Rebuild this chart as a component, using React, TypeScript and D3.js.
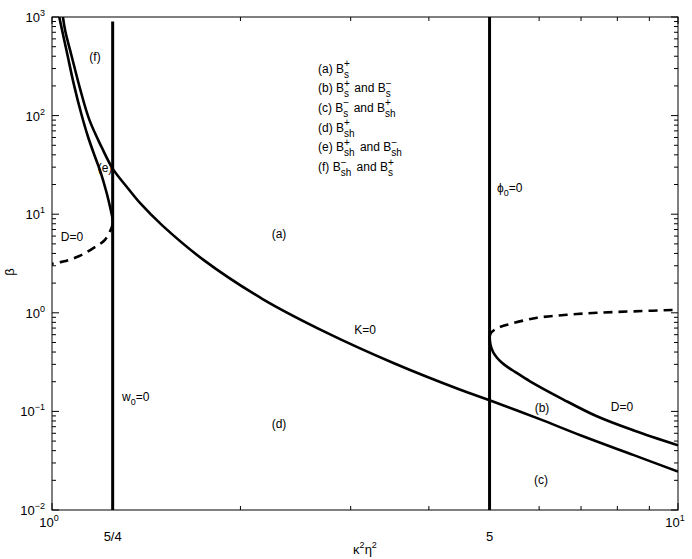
import * as d3 from "d3";

// plot box in page pixels
const W = 692;
const H = 559;
const LEFT = 52;
const RIGHT = 678;
const TOP = 17;
const BOTTOM = 510;

const FONT = "'Liberation Sans', Arial, Helvetica, sans-serif";

// curve K=0: [kappa^2 eta^2, beta]
const K0_X = [1.041, 1.05, 1.075, 1.108, 1.147, 1.2, 1.25, 1.316, 1.382, 1.5, 1.75, 2.17, 2.745, 3.51, 4.49, 5, 6, 7, 8.5, 10];
const K0_B = [1000, 720, 400, 190, 91, 48, 29, 19, 13, 7.7, 3.4, 1.38, 0.63, 0.31, 0.166, 0.13, 0.084, 0.057, 0.036, 0.0245];

// D=0 near 5/4: solid upper branch, then dashed lower branch
const D0L_SOLID_X = [1.027, 1.0567, 1.0842, 1.1126, 1.1416, 1.1714, 1.1953, 1.2228, 1.241, 1.2493, 1.25];
const D0L_SOLID_B = [1000, 433, 205, 106.8, 61, 38.2, 26.9, 16.4, 11.08, 8.98, 8.0];
const D0L_DASH_X = [1.25, 1.245, 1.215, 1.164, 1.101, 1.042, 1.0];
const D0L_DASH_B = [8.0, 7.3, 5.5, 4.53, 3.72, 3.31, 3.14];

// D=0 near 5: solid lower branch, dashed upper branch
const D0R_SOLID_X = [5.0, 5.017, 5.064, 5.139, 5.234, 5.351, 5.49, 5.802, 6.55, 7.42, 8.5, 10];
const D0R_SOLID_B = [0.571, 0.474, 0.402, 0.35, 0.311, 0.28, 0.252, 0.202, 0.1327, 0.0892, 0.064, 0.0453];
const D0R_DASH_X = [5.0, 5.027, 5.121, 5.333, 5.955, 6.647, 7.42, 8.5, 10];
const D0R_DASH_B = [0.571, 0.627, 0.688, 0.756, 0.89, 0.954, 1.0, 1.035, 1.072];

// vertical lines w0=0 and phi0=0
const W0_X = 1.25;
const W0_TOP = 900;
const PHI0_X = 5;
const PHI0_TOP = 1000;

// tick labels
const Y_DECADES = [-2, -1, 0, 1, 2, 3];
const X_DECADES = [0, 1];
const X_EXTRA = [
  { v: 1.25, label: "5/4" },
  { v: 5, label: "5" },
];

// legend: tag, then pairs of [superscript, subscript]
const LEGEND_TAGS = ["(a)", "(b)", "(c)", "(d)", "(e)", "(f)"];
const LEGEND_TERMS: string[][][] = [
  [["+", "s"]],
  [["+", "s"], ["\u2212", "s"]],
  [["\u2212", "s"], ["+", "sh"]],
  [["+", "sh"]],
  [["+", "sh"], ["\u2212", "sh"]],
  [["\u2212", "sh"], ["+", "s"]],
];

const zip = (xs: number[], bs: number[]) => xs.map((v, i) => [v, bs[i]] as [number, number]);

export default function App() {
  const x = d3.scaleLog().domain([1, 10]).range([LEFT, RIGHT]);
  const y = d3.scaleLog().domain([0.01, 1000]).range([BOTTOM, TOP]);

  const line = d3
    .line<[number, number]>()
    .x((d) => x(d[0]))
    .y((d) => y(d[1]))
    .curve(d3.curveCatmullRom.alpha(0.5));

  const isMajor = (v: number) => Math.abs(Math.log10(v) - Math.round(Math.log10(v))) < 1e-6;
  const yTicks = y.ticks();
  const xTicks = x.ticks();

  const curve = { fill: "none", stroke: "#000", strokeWidth: 2.6 };
  const dashed = { ...curve, strokeDasharray: "9,6" };

  return (
    <svg
      width={W}
      height={H}
      style={{ position: "absolute", left: 0, top: 0, background: "#fff" }}
      fontFamily={FONT}
    >
      <defs>
        <clipPath id="plot">
          <rect x={LEFT} y={TOP} width={RIGHT - LEFT} height={BOTTOM - TOP} />
        </clipPath>
      </defs>
      <rect width={W} height={H} fill="#fff" />

      {/* ticks */}
      <g stroke="#000" strokeWidth={1}>
        {yTicks.map((v, i) => {
          const len = isMajor(v) ? 7 : 4;
          const yy = y(v);
          return (
            <g key={"y" + i}>
              <line x1={LEFT} x2={LEFT + len} y1={yy} y2={yy} />
              <line x1={RIGHT} x2={RIGHT - len} y1={yy} y2={yy} />
            </g>
          );
        })}
        {xTicks.map((v, i) => {
          const len = isMajor(v) ? 7 : 4;
          const xx = x(v);
          return (
            <g key={"x" + i}>
              <line x1={xx} x2={xx} y1={BOTTOM} y2={BOTTOM - len} />
              <line x1={xx} x2={xx} y1={TOP} y2={TOP + len} />
            </g>
          );
        })}
      </g>

      {/* frame */}
      <rect x={LEFT} y={TOP} width={RIGHT - LEFT} height={BOTTOM - TOP} fill="none" stroke="#000" strokeWidth={1} />

      {/* curves */}
      <g clipPath="url(#plot)">
        <path d={line(zip(K0_X, K0_B)) || ""} {...curve} />
        <path d={line(zip(D0L_SOLID_X, D0L_SOLID_B)) || ""} {...curve} />
        <path d={line(zip(D0L_DASH_X, D0L_DASH_B)) || ""} {...dashed} />
        <path d={line(zip(D0R_SOLID_X, D0R_SOLID_B)) || ""} {...curve} />
        <path d={line(zip(D0R_DASH_X, D0R_DASH_B)) || ""} {...dashed} />
        <line x1={x(W0_X)} x2={x(W0_X)} y1={y(W0_TOP)} y2={BOTTOM} stroke="#000" strokeWidth={3} />
        <line x1={x(PHI0_X)} x2={x(PHI0_X)} y1={y(PHI0_TOP)} y2={BOTTOM} stroke="#000" strokeWidth={3} />
      </g>

      {/* y tick labels */}
      {Y_DECADES.map((e) => (
        <text key={"yl" + e} x={45} y={y(Math.pow(10, e)) + 5} textAnchor="end" fontSize={13}>
          10
          <tspan dy={-6} fontSize={9}>
            {e < 0 ? "\u2212" + -e : String(e)}
          </tspan>
        </text>
      ))}

      {/* x tick labels */}
      {X_DECADES.map((e) => (
        <text key={"xl" + e} x={x(Math.pow(10, e)) - 3} y={527} textAnchor="middle" fontSize={13}>
          10
          <tspan dy={-6} fontSize={9}>
            {String(e)}
          </tspan>
        </text>
      ))}
      {X_EXTRA.map((t) => (
        <text key={t.label} x={x(t.v)} y={541} textAnchor="middle" fontSize={13}>
          {t.label}
        </text>
      ))}

      {/* axis titles */}
      <text x={365} y={554} textAnchor="middle" fontSize={13}>
        {"\u03ba"}
        <tspan dy={-6} fontSize={9}>2</tspan>
        <tspan dy={6}>{"\u03b7"}</tspan>
        <tspan dy={-6} fontSize={9}>2</tspan>
      </text>
      <text transform="translate(14,272) rotate(-90)" textAnchor="middle" fontSize={13}>
        {"\u03b2"}
      </text>

      {/* region labels */}
      <g fontSize={12}>
        <text x={95} y={61} textAnchor="middle">(f)</text>
        <text x={105} y={172} textAnchor="middle">(e)</text>
        <text x={72} y={241} textAnchor="middle">D=0</text>
        <text x={279} y={238} textAnchor="middle">(a)</text>
        <text x={365} y={334} textAnchor="middle">K=0</text>
        <text x={279} y={428} textAnchor="middle">(d)</text>
        <text x={542} y={412} textAnchor="middle">(b)</text>
        <text x={622} y={411} textAnchor="middle">D=0</text>
        <text x={541} y={484} textAnchor="middle">(c)</text>
        <text x={122} y={401}>
          w<tspan dy={4} fontSize={9}>0</tspan>
          <tspan dy={-4}>=0</tspan>
        </text>
        <text x={497} y={192}>
          {"\u03d5"}
          <tspan dy={4} fontSize={9}>0</tspan>
          <tspan dy={-4}>=0</tspan>
        </text>
      </g>

      {/* legend */}
      <g fontSize={12}>
        {LEGEND_TAGS.map((tag, i) => (
          <text key={tag} x={318} y={72.5 + i * 19.7}>
            {tag + " B"}
            {LEGEND_TERMS[i].map((t, j) => [
              j > 0 ? (
                <tspan key={"a" + j} dx={2} dy={-5}>
                  {" and B"}
                </tspan>
              ) : null,
              <tspan key={"p" + j} fontSize={10} dy={-5.5}>
                {t[0]}
              </tspan>,
              <tspan key={"b" + j} fontSize={10} dx={-5.84} dy={10.5}>
                {t[1]}
              </tspan>,
            ])}
          </text>
        ))}
      </g>
    </svg>
  );
}
